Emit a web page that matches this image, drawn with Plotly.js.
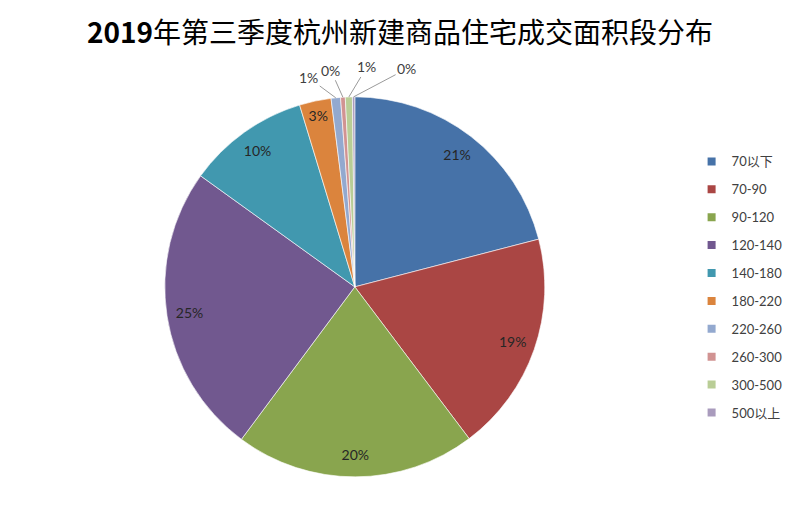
<!DOCTYPE html>
<html>
<head>
<meta charset="utf-8">
<script src="https://cdn.plot.ly/plotly-3.0.1.min.js"></script>
<style>
  html, body { margin: 0; padding: 0; background: #fff; }
  #chart { width: 800px; height: 523px; }
</style>
</head>
<body>
<div id="chart"></div>
<script>
// 面积段 (㎡) and share of sales
var segments = ['70以下', '70-90', '90-120', '120-140', '140-180', '180-220', '220-260', '260-300', '300-500', '500以上'];
var shares = [21.0, 18.8, 20.5, 24.8, 10.4, 2.7, 0.8, 0.4, 0.6, 0.2];
var colors = ['#4672A8', '#AA4644', '#89A54E', '#71588F', '#4198AF', '#DB843D', '#93A9CF', '#D19392', '#B9CD96', '#A99BBD'];

var W = 800, H = 523;
var pieDomain = { x: [0.206, 0.681], y: [0.088, 0.815] };
var txtFont = 'Lato, "Noto Sans CJK SC", sans-serif';

// slices too thin for an inside label get a callout, offsets in px from the rim
var calloutOffsets = { 6: [-27, -20], 7: [-12, -27], 8: [18, -30], 9: [53, -28] };

var total = shares.reduce(function (a, b) { return a + b; }, 0);
var labelPos = shares.map(function (v, i) { return calloutOffsets[i] ? 'none' : 'inside'; });

// the pie itself, no text
var pie = {
    type: 'pie',
    labels: segments,
    values: shares,
    sort: false,
    direction: 'clockwise',
    rotation: 0,
    domain: pieDomain,
    marker: { colors: colors, line: { color: '#ffffff', width: 0.6 } },
    textinfo: 'none',
    showlegend: false,
    hoverinfo: 'label+percent'
};

// transparent ring on top so the % labels sit near the rim like in excel
var ring = {
    type: 'pie',
    labels: segments,
    values: shares,
    sort: false,
    direction: 'clockwise',
    rotation: 0,
    hole: 0.76,
    domain: pieDomain,
    marker: { colors: segments.map(function () { return 'rgba(0,0,0,0)'; }), line: { width: 0 } },
    texttemplate: '%{percent:.0%}',
    textposition: labelPos,
    insidetextorientation: 'horizontal',
    insidetextfont: { family: txtFont, size: 14, color: '#262626' },
    showlegend: false,
    hoverinfo: 'skip'
};

// legend entries (separate traces so the rows can be spread out)
var legendTraces = segments.map(function (s, i) {
    return {
        type: 'scatter',
        mode: 'markers',
        x: [null],
        y: [null],
        name: s,
        legendgroup: 'g' + i,
        marker: { symbol: 'square', size: 8, color: colors[i] },
        hoverinfo: 'skip'
    };
});

// callouts for the tiny slices at the top
var cx = (pieDomain.x[0] + pieDomain.x[1]) / 2;
var cy = (pieDomain.y[0] + pieDomain.y[1]) / 2;
var rPx = Math.min((pieDomain.x[1] - pieDomain.x[0]) * W, (pieDomain.y[1] - pieDomain.y[0]) * H) / 2;
var annotations = [];
var cum = 0;
shares.forEach(function (v, i) {
    var mid = (cum + v / 2) / total * 2 * Math.PI;
    cum += v;
    if (!calloutOffsets[i]) return;
    annotations.push({
        xref: 'paper', yref: 'paper',
        x: cx + rPx * Math.sin(mid) / W,
        y: cy + rPx * Math.cos(mid) / H,
        text: Math.round(v / total * 100) + '%',
        showarrow: true,
        arrowhead: 0,
        arrowwidth: 0.8,
        arrowcolor: '#808080',
        ax: calloutOffsets[i][0],
        ay: calloutOffsets[i][1],
        font: { family: txtFont, size: 14, color: '#404040' }
    });
});

var layout = {
    width: W,
    height: H,
    margin: { l: 0, r: 0, t: 0, b: 0 },
    paper_bgcolor: '#ffffff',
    plot_bgcolor: '#ffffff',
    title: {
        text: '<b>2019</b>年第三季度杭州新建商品住宅成交面积段分布',
        x: 0.5,
        xanchor: 'center',
        y: 0.937,
        yanchor: 'middle',
        font: { family: '"Noto Sans CJK SC", sans-serif', size: 28, color: '#000000' }
    },
    xaxis: { visible: false },
    yaxis: { visible: false },
    uniformtext: { mode: 'show', minsize: 14 },
    annotations: annotations,
    showlegend: true,
    legend: {
        x: 0.8645,
        xanchor: 'left',
        y: 0.72,
        yanchor: 'top',
        tracegroupgap: 8,
        font: { family: txtFont, size: 13, color: '#404040' },
        bgcolor: 'rgba(0,0,0,0)'
    }
};

Plotly.newPlot('chart', [pie, ring].concat(legendTraces), layout, { displayModeBar: false, staticPlot: true });
</script>
</body>
</html>
